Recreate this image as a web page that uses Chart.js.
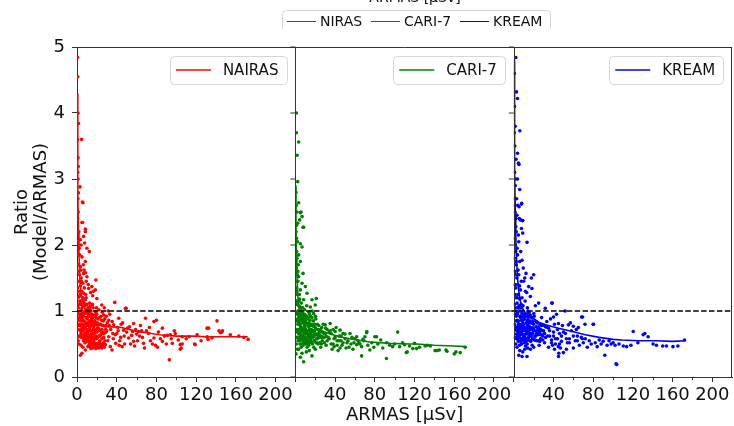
<!DOCTYPE html>
<html><head><meta charset="utf-8">
<script src="https://cdn.jsdelivr.net/npm/chart.js@4"></script>
<style>html,body{margin:0;padding:0;background:#fff;}canvas{display:block;}</style>
</head><body>
<canvas id="c" width="734" height="426"></canvas>
<script>
const panelLabels = ['NAIRAS', 'CARI-7', 'KREAM'];
const topLegendLabels = ['NIRAS', 'CARI-7', 'KREAM'];
const topTitle = 'ARMAS [μSv]';
const xTitle = 'ARMAS [μSv]';
const yTitle = ['Ratio', '(Model/ARMAS)'];
const colors = ['#ff0000', '#008000', '#0000ff'];
const xTicks = [0, 40, 80, 120, 160, 200];
const xMinorTicks = [20, 60, 100, 140, 180];
const yTicks = [0, 1, 2, 3, 4, 5];
const refRatio = 1;

const nairasPoints = [
[0.6,4.84],[0.8,4.55],[1.0,4.0],[1.5,3.84],[4.7,3.6],[1.0,3.32],[1.3,3.19],[1.1,3.0],[3.0,2.88],[1.4,2.79],[5.4,2.65],[5.7,2.34],[8.4,2.24],
[0.5,3.6],[0.7,3.1],[0.9,2.7],[1.2,2.5],[0.6,2.4],[1.8,2.2],[0.8,2.05],[2.2,1.95],[1.0,1.85],[1.6,1.7],[0.7,1.6],[2.5,1.55],[1.2,1.45],[0.5,1.35],[1.9,1.3],[0.9,1.2],[2.8,1.15],[1.4,1.05],[0.6,0.98],
[6,2.64],[5,2.34],[8.4,2.2],[6.7,2.13],[3.4,2.08],[7.7,2.03],[10,1.95],[12.4,1.9],[5,1.82],[8.4,1.75],[3.4,1.67],[6.7,1.57],[10,1.52],[4.4,1.45],[19,1.47],[15,1.37],[11.7,1.34],[18.5,1.32],[6.7,1.27],[15.8,1.23],[8.4,1.17],[20,1.19],[25,1.09],[13.4,1.07],[22,1.02],[5,0.96],[11.7,0.94],[1.7,0.89],[15,0.86],[8.4,0.81],[20,0.79],[5,0.71],[25,0.69],[1.7,0.61],[15,0.59],[10,0.54],[15,0.49],[20,0.46],[25,0.47],[8.4,0.41],[5,0.36],[3.4,0.33],
[3,1.25],[4,1.1],[5,0.95],[6,1.2],[7,0.85],[8,1.0],[9,0.9],[10,1.1],[11,0.8],[12,0.95],[13,0.75],[14,1.0],[15,0.7],[16,0.9],[17,0.65],[18,0.85],[19,0.72],[20,0.95],[22,0.62],[24,0.8],[26,0.68],[28,0.88],[30,0.7],
[2.5,0.8],[3.5,0.7],[4.5,0.6],[5.5,0.85],[6.5,0.55],[7.5,0.75],[8.5,0.65],[9.5,0.58],[10.5,0.72],[11.5,0.62],[12.5,0.85],[13.5,0.55],[14.5,0.78],[15.5,0.6],[16.5,0.72],[17.5,0.52],[18.5,0.68],[19.5,0.58],[21,0.75],[23,0.55],[25,0.72],[27,0.6],[29,0.78],
[3.2,1.0],[4.2,0.9],[5.2,1.05],[6.2,0.78],[7.2,1.12],[8.2,0.82],[9.2,1.2],[10.2,0.88],[11.2,1.05],[12.2,0.7],[13.2,0.92],[14.2,0.65],[16.2,1.05],[18.2,0.6],[20.5,0.82],[22.5,0.9],[24.5,0.65],[26.5,0.85],
[2.2,0.95],[2.8,1.1],[3.8,0.85],[4.8,1.3],[5.8,0.7],[6.8,0.95],[7.8,0.6],[8.8,1.25],[9.8,0.78],[10.8,0.98],[11.8,0.55],[12.8,1.12],[13.8,0.82],[15.2,0.95],[17.2,0.8],[19.2,0.9],[21.5,0.5],[23.5,0.7],
[2,0.5],[3,0.62],[4,0.48],[6,0.45],[8,0.52],[1.5,0.72],[1.2,0.55],[0.8,0.85],
[12,0.48],[13.5,0.45],[14.5,0.5],[16,0.44],[17.5,0.47],[19,0.43],[20.5,0.48],[22,0.45],[23.5,0.5],[25,0.44],[26.5,0.47],[15,0.52],[18,0.5],[21,0.51],[24,0.47],
[1.5,1.1],[2.3,1.22],[3.1,0.78],[3.6,1.15],[4.1,0.66],[4.4,1.02],[4.9,0.74],[5.3,0.88],[5.6,1.15],[6.1,0.62],[6.4,0.92],[6.9,0.72],[7.3,0.98],[7.7,0.66],[8.1,1.08],[8.6,0.74],[9.1,0.97],[9.4,0.68],[9.9,1.02],[10.4,0.6],[10.7,0.82],[11.1,0.7],[11.6,0.92],[12.1,0.78],[12.6,0.6],[13.1,1.02],[13.6,0.7],[14.1,0.86],[14.6,0.58],[15.1,0.8],[15.6,1.1],[16.1,0.66],[16.6,0.84],[17.1,0.58],[17.6,0.94],[18.1,0.72],[18.6,0.8],[19.1,0.62],[19.6,1.05],[20.2,0.68],[21.2,0.88],[22.2,0.72],[23.2,0.62],[24.2,0.92],[25.2,0.58],[26.2,0.78],[27.2,0.66],[28.2,0.55],[29.2,0.68],[30.5,0.82],
[1.8,0.78],[2.6,0.62],[3.4,0.92],[4.6,0.8],[5.1,0.62],[6.6,1.08],[7.1,0.58],[8.9,0.62],[9.7,0.9],[10.9,0.66],[12.4,0.98],[13.9,0.62],[14.9,0.92],[16.9,0.76],[18.9,0.98],[20.8,0.6],[22.8,0.8],[24.8,0.86],[26.8,0.52],[28.8,0.72],
[2.1,1.45],[3.3,1.38],[4.3,1.5],[5.9,1.42],[7.4,1.35],[9.3,1.45],[11.4,1.4],[13.7,1.28],[16.4,1.3],[3.9,1.62],[6.3,1.7],[8.7,1.58],[2.7,1.85],[4.1,2.0],[7.1,1.62],
[11,0.46],[12.8,0.5],[14,0.43],[16.8,0.48],[18.7,0.46],[19.8,0.5],[21.7,0.44],[22.8,0.49],[24.4,0.45],[26,0.5],[27.5,0.45],[13,0.53],[17,0.55],[23,0.53],
[32.5,0.78],[35.5,0.84],[38.5,0.64],[41.5,0.7],[44.5,0.8],[47.5,0.62],[51,0.74],[56,0.69],[33.5,0.46],[42.5,0.48],[36.5,0.58],[29.5,0.92],[31.5,1.0],[27.5,1.05],[25.5,0.98],
[38,1.13],[49.5,1.04],[48.8,1.04],[27,0.94],[32,0.86],[42,0.89],[37,0.79],[57,0.81],[69,0.89],[77.5,0.84],[86,0.74],[47,0.71],[62,0.69],[72,0.66],[99,0.66],[32,0.61],[52,0.59],[77.5,0.59],[106,0.61],[39,0.51],[57,0.54],[67,0.51],[86,0.54],[96,0.51],[106,0.5],[28.6,0.49],[45.5,0.46],[35.3,0.41],[104,0.42],[93,0.26],[80,0.86],[91,0.63],[94,0.64],[104,0.49],[119,0.49],[105,0.44],
[34,0.72],[36,0.66],[41,0.75],[44,0.6],[46,0.82],[50,0.68],[53,0.76],[55,0.63],[59,0.72],[61,0.55],[64,0.78],[66,0.6],[70,0.7],[74,0.55],[79,0.48],[82,0.68],[84,0.58],[88,0.62],[90,0.5],[95,0.58],[98,0.7],[102,0.56],[43,0.55],[48,0.5],[58,0.47],[63,0.62],[68,0.44],[73,0.75],[76,0.5],[81,0.45],[31,0.55],[33,0.95],[40,0.66],[54,0.5],[60,0.65],[65,0.7],
[113,0.61],[118.5,0.5],[121,0.64],[131,0.61],[132,0.57],[132.6,0.74],[136,0.59],[141,0.85],[144.4,0.67],[146,0.68],[146.5,0.7],[154.5,0.64],[163,0.62],[168,0.6],[172.4,0.57],[131,0.74],[143,0.7],[110,0.58],[125,0.55]
];
const cari7Points = [
[1,4.0],[1,3.7],[3.3,3.56],[1.7,3.36],[2.3,2.96],[3.3,2.64],[5.7,2.5],[4.3,2.38],[7.7,2.27],[2.3,2.33],[5,2.49],[6.7,2.43],[8.3,2.27],[5,2.02],[6.7,1.97],[3.3,1.85],[5,1.75],[7.7,1.57],[3.3,1.52],[6.7,1.42],[10,1.37],[5,1.32],[11.7,1.27],[21,1.19],[16.7,1.17],[20,1.09],[8.3,1.17],[15,1.06],[5,1.06],[18.3,0.96],[10,0.94],
[0.5,2.8],[0.8,2.6],[0.6,2.2],[1.2,2.1],[0.7,1.9],[1.5,1.8],[0.9,1.65],[1.8,1.55],[0.6,1.45],[1.3,1.35],[2.1,1.25],[0.8,1.15],[1.6,1.1],[2.5,1.0],[0.5,0.95],[1.1,0.85],[0.7,0.7],[1.4,0.6],[0.9,0.5],[1.9,0.42],[0.6,0.35],[2.6,1.45],[2.9,1.7],[4,1.25],[3.6,1.15],
[3,0.95],[4,0.85],[5,0.9],[6,0.75],[7,0.98],[8,0.7],[9,0.88],[10,0.65],[11,0.82],[12,0.6],[13,0.9],[14,0.72],[15,0.55],[16,0.8],[17,0.68],[18,0.85],[19,0.62],[20,0.75],[22,0.58],[24,0.7],[26,0.62],[28,0.8],[30,0.66],[32,0.55],
[3.5,0.72],[4.5,0.6],[5.5,0.68],[6.5,0.5],[7.5,0.62],[8.5,0.55],[9.5,0.75],[10.5,0.5],[11.5,0.68],[12.5,0.78],[13.5,0.48],[14.5,0.6],[15.5,0.7],[16.5,0.52],[17.5,0.6],[18.5,0.45],[19.5,0.7],[21,0.65],[23,0.5],[25,0.62],[27,0.55],[29,0.6],
[2.5,0.8],[2.8,0.6],[3.8,0.55],[4.8,0.78],[5.8,0.45],[6.8,0.85],[7.8,0.48],[8.8,0.95],[9.8,0.58],[10.8,0.9],[11.8,0.45],[12.8,0.65],[13.8,0.82],[15.2,0.92],[16.2,0.62],[17.2,0.78],[18.8,0.55],[20.5,0.88],[22.5,0.72],[24.5,0.52],[26.5,0.75],
[2.2,0.68],[3.2,0.42],[4.2,1.0],[6.2,0.62],[7.2,0.72],[9.2,0.82],[11.2,0.58],[13.2,0.55],[14.2,0.95],[16.8,1.0],[19.2,0.8],[21.5,0.52],[23.5,0.78],[25.5,0.45],[8.3,0.23],[6.7,0.36],[16.7,0.32],[5,0.3],[11,0.38],[14,0.4],[20,0.42],
[1.5,0.98],[2.3,0.88],[3.1,0.66],[3.6,0.92],[4.1,0.58],[4.4,0.8],[4.9,0.64],[5.3,1.02],[5.6,0.56],[6.1,0.88],[6.4,0.7],[6.9,0.6],[7.3,0.82],[7.7,0.55],[8.1,0.92],[8.6,0.66],[9.1,0.78],[9.4,0.52],[9.9,0.86],[10.4,0.72],[10.7,0.6],[11.1,0.92],[11.6,0.52],[12.1,0.7],[12.6,0.88],[13.1,0.62],[13.6,0.76],[14.1,0.52],[14.6,0.86],[15.1,0.66],[15.6,0.58],[16.1,0.72],[16.6,0.9],[17.1,0.5],[17.6,0.7],[18.1,0.62],[18.6,0.78],[19.1,0.55],[19.6,0.65],[20.2,0.92],[21.2,0.58],[22.2,0.8],[23.2,0.66],[24.2,0.6],[25.2,0.72],[26.2,0.5],[27.2,0.68],[28.2,0.6],[29.2,0.52],[30.5,0.74],
[1.8,0.72],[2.6,0.55],[3.4,0.82],[4.6,0.5],[5.1,0.74],[6.6,0.95],[7.1,0.5],[8.9,0.6],[9.7,0.68],[10.9,0.55],[12.4,0.5],[13.9,0.7],[14.9,0.78],[16.9,0.62],[18.9,0.7],[20.8,0.52],[22.8,0.62],[24.8,0.68],[26.8,0.6],[28.8,0.66],
[2.1,1.15],[3.3,1.08],[4.3,1.18],[5.9,1.12],[7.4,1.05],[9.3,1.02],[11.4,1.08],[13.7,0.98],[1.2,1.3],[1.7,1.45],[2.4,1.6],[1.3,1.9],[2,2.05],[1.1,2.3],[1.6,2.5],
[32,0.72],[34,0.58],[36,0.66],[38,0.5],[40,0.6],[42,0.48],[44,0.55],[46,0.62],[48,0.52],[50,0.65],[53,0.55],[56,0.5],[60,0.58],[64,0.52],[69,0.55],[31,0.62],[35,0.7],[39,0.46],[41,0.75],[45,0.44],
[35,0.81],[30,0.79],[45,0.71],[40,0.69],[55,0.66],[61.7,0.61],[71.7,0.67],[70,0.61],[80,0.61],[66.7,0.46],[61.7,0.49],[75,0.41],[66.7,0.32],[91.7,0.28],[103,0.68],[72,0.69],[81.7,0.61],[111.7,0.37],[122,0.43],[98,0.46],[110,0.49],
[33,0.6],[36,0.5],[38,0.72],[42,0.55],[44,0.62],[47,0.48],[50,0.58],[52,0.52],[54,0.45],[57,0.6],[59,0.52],[63,0.55],[65,0.5],[68,0.57],[73,0.48],[77,0.52],[79,0.45],[83,0.5],[86,0.56],[88,0.44],[92,0.52],[95,0.48],[100,0.5],[105,0.46],[48,0.66],[37,0.42],[43,0.4],[58,0.42],[34,0.68],[31,0.48],[39,0.58],[46,0.55],[51,0.44],
[112.7,0.38],[118.3,0.43],[120,0.51],[130.7,0.47],[133,0.48],[136,0.47],[140.7,0.4],[143,0.4],[145,0.41],[152.7,0.39],[160,0.35],[161.7,0.38],[166,0.37],[171,0.45],[151.7,0.41],[108,0.52],[115,0.47],[125,0.45]
];
const kreamPoints = [
[2,4.84],[2.7,4.32],[3.7,4.22],[6,3.73],[3.7,3.39],[4.7,3.24],[5.2,3.22],[3.7,3.0],[6,2.84],[8,2.63],[5.3,2.58],[8.7,2.37],[5.5,2.4],[2,2.28],[7.7,2.62],[6.7,2.38],[9,2.37],[7.7,2.25],[9,2.18],[5,2.05],[13.3,2.04],[3.3,1.95],[8.3,1.77],[4.3,1.62],[12.3,1.57],[20,1.55],[17.7,1.5],[10,1.45],[15,1.37],[18.3,1.34],[6.7,1.32],[11.7,1.3],[16.7,1.22],[8.3,1.2],[25,1.12],[38.3,1.12],[21.7,1.08],[31.7,1.04],[51.7,1.0],[15,0.98],[40,0.91],[28,0.9],[33.3,0.84],[68.3,0.91],[71.7,0.8],[80,0.8],[45,0.81],[55,0.79],[60,0.77],
[0.5,4.6],[0.7,4.1],[0.5,3.7],[1.0,3.5],[0.8,3.1],[1.5,2.9],[0.6,2.7],[1.2,2.5],[2.5,2.2],[0.9,2.1],[1.8,1.9],[0.6,1.8],[2.3,1.7],[1.1,1.6],[3,1.5],[0.7,1.4],[2.0,1.35],[1.4,1.25],[3.5,1.2],[0.8,1.1],[2.6,1.05],[1.0,0.95],[4,1.4],[5,1.55],[6,1.75],[7,1.9],[3.8,1.85],[4.6,2.15],[9.5,1.65],[11,1.5],[7.5,1.45],[5.8,1.38],[13,1.28],
[3,0.95],[4,0.85],[5,1.0],[6,0.8],[7,1.05],[8,0.75],[9,0.92],[10,0.7],[11,0.88],[12,0.65],[13,0.95],[14,0.78],[15,0.6],[16,0.85],[17,0.72],[18,0.9],[19,0.66],[20,0.8],[22,0.62],[24,0.75],[26,0.68],[28,0.78],[30,0.7],[32,0.6],
[3.5,0.75],[4.5,0.62],[5.5,0.72],[6.5,0.55],[7.5,0.68],[8.5,0.58],[9.5,0.8],[10.5,0.52],[11.5,0.72],[12.5,0.82],[13.5,0.5],[14.5,0.65],[15.5,0.75],[16.5,0.55],[17.5,0.62],[18.5,0.48],[19.5,0.74],[21,0.7],[23,0.55],[25,0.65],[27,0.58],[29,0.62],
[2.5,0.85],[2.8,0.65],[3.8,0.58],[4.8,0.8],[5.8,0.48],[6.8,0.9],[7.8,0.5],[8.8,1.0],[9.8,0.6],[10.8,0.95],[11.8,0.47],[12.8,0.7],[13.8,0.86],[15.2,0.98],[16.2,0.66],[17.2,0.82],[18.8,0.58],[20.5,0.92],[22.5,0.76],[24.5,0.55],[26.5,0.8],
[2.2,0.72],[3.2,0.45],[4.2,1.05],[6.2,0.66],[7.2,0.78],[9.2,0.86],[11.2,0.6],[13.2,0.58],[14.2,1.0],[19.2,0.85],[21.5,0.56],[23.5,0.82],[25.5,0.48],[5,0.33],[8.3,0.31],[13.3,0.31],[16.7,0.42],[11,0.42],[6,0.4],[20,0.45],[9,0.38],[14,0.44],[2,0.5],[1,0.6],[0.6,0.8],
[1.5,1.0],[2.3,0.92],[3.1,0.7],[3.6,0.96],[4.1,0.62],[4.4,0.84],[4.9,0.68],[5.3,1.08],[5.6,0.6],[6.1,0.92],[6.4,0.74],[6.9,0.64],[7.3,0.86],[7.7,0.58],[8.1,0.96],[8.6,0.7],[9.1,0.82],[9.4,0.56],[9.9,0.9],[10.4,0.76],[10.7,0.64],[11.1,0.96],[11.6,0.56],[12.1,0.74],[12.6,0.92],[13.1,0.66],[13.6,0.8],[14.1,0.56],[14.6,0.9],[15.1,0.7],[15.6,0.62],[16.1,0.76],[16.6,0.94],[17.1,0.54],[17.6,0.74],[18.1,0.66],[18.6,0.82],[19.1,0.58],[19.6,0.7],[20.2,0.96],[21.2,0.62],[22.2,0.84],[23.2,0.7],[24.2,0.64],[25.2,0.76],[26.2,0.54],[27.2,0.72],[28.2,0.64],[29.2,0.56],[30.5,0.78],
[1.8,0.76],[2.6,0.58],[3.4,0.86],[4.6,0.54],[5.1,0.78],[6.6,1.0],[7.1,0.54],[8.9,0.64],[9.7,0.72],[10.9,0.58],[12.4,0.54],[13.9,0.74],[14.9,0.82],[16.9,0.66],[18.9,0.74],[20.8,0.56],[22.8,0.66],[24.8,0.72],[26.8,0.64],[28.8,0.7],
[2.1,1.2],[3.3,1.12],[4.3,1.25],[5.9,1.18],[7.4,1.1],[9.3,1.08],[11.4,1.15],[13.7,1.05],[1.2,1.4],[1.7,1.55],[2.4,1.75],[1.3,2.0],[2,2.4],[1.1,2.6],[1.6,3.0],[2.2,3.3],[1.4,3.8],[2.8,2.7],[3.2,2.45],[4.1,2.6],
[32,0.76],[34,0.62],[36,0.7],[38,0.56],[40,0.62],[42,0.5],[44,0.58],[46,0.66],[48,0.54],[50,0.68],[53,0.58],[56,0.52],[60,0.62],[64,0.55],[69,0.58],[31,0.66],[35,0.74],[39,0.48],[41,0.8],[45,0.46],
[91.7,0.33],[103,0.2],[45,0.31],[50,0.37],[80.3,0.8],[69.3,0.91],[38.7,1.12],[45.3,0.36],[34,0.75],[36,0.62],[38,0.52],[40,0.68],[42,0.58],[44,0.72],[46,0.5],[48,0.62],[52,0.66],[54,0.52],[56,0.58],[58,0.7],[62,0.55],[64,0.62],[66,0.48],[68,0.6],[70,0.52],[72,0.58],[74,0.45],[76,0.55],[78,0.5],[82,0.52],[84,0.46],[86,0.56],[88,0.5],[90,0.54],[94,0.48],[96,0.55],[98,0.5],[100,0.52],[35,0.45],[41,0.42],[47,0.44],[53,0.42],[60,0.44],[63,0.72],[57,0.82],[49,0.78],[37,0.88],[31,0.52],[43,0.95],[65,0.75],
[120.3,0.69],[130.3,0.64],[132,0.66],[135.3,0.61],[110.3,0.47],[113.7,0.46],[102,0.48],[140.3,0.5],[143.7,0.48],[153.7,0.47],[160.3,0.46],[165.3,0.47],[172,0.56],[103.7,0.19],[106,0.5],[118,0.48],[125,0.52],[150,0.47]
];

const nairasFitX = [0.3,0.6,1,1.5,2,3,4,5,7,10,15,20,28,35,45,50,55,60,66,75,83,91,100,116,130,150,172];
const nairasFitY = [4.3,3.5,2.8,2.2,1.85,1.45,1.3,1.2,1.08,0.96,0.86,0.8,0.76,0.76,0.75,0.73,0.71,0.69,0.68,0.66,0.64,0.63,0.62,0.62,0.61,0.61,0.61];
const cari7FitX = [0.3,0.6,1,1.5,2,3,4,6,8,12,16,20,28,35,45,55,62,75,95,115,122,140,160,172];
const cari7FitY = [2.9,2.3,1.85,1.55,1.35,1.12,1.0,0.92,0.87,0.82,0.77,0.74,0.69,0.65,0.61,0.58,0.56,0.53,0.51,0.5,0.5,0.48,0.47,0.46];
const kreamFitX = [0.3,0.6,1,1.5,2,3,4,5,7,9,12,16,19,25,32,45,59,72,86,100,109,125,143,160,173];
const kreamFitY = [4.8,3.9,3.1,2.5,2.1,1.7,1.45,1.3,1.12,1.04,0.96,0.92,0.9,0.83,0.79,0.74,0.69,0.64,0.6,0.57,0.56,0.55,0.55,0.54,0.55];

const FONT = 'DejaVu Sans';
const TXT = '#111';
const AX = '#333';
const panelPoints = [nairasPoints, cari7Points, kreamPoints];
const fitX = [nairasFitX, cari7FitX, kreamFitX];
const fitY = [nairasFitY, cari7FitY, kreamFitY];
const xIds = ['x1', 'x2', 'x3'];

const datasets = [];
for (let i = 0; i < 3; i++) {
  datasets.push({
    label: panelLabels[i] + ' points',
    data: panelPoints[i].map(([x, y]) => ({x, y})),
    xAxisID: xIds[i], yAxisID: 'y',
    backgroundColor: colors[i], borderWidth: 0,
    pointRadius: 1.8, pointHoverRadius: 1.8, order: 2
  });
  datasets.push({
    label: panelLabels[i],
    data: fitX[i].map((x, k) => ({x, y: fitY[i][k]})),
    xAxisID: xIds[i], yAxisID: 'y',
    showLine: true, borderColor: colors[i], borderWidth: 1.6,
    pointRadius: 0, tension: 0, fill: false, order: 1
  });
}

function xScale(i) {
  return {
    type: 'linear', position: 'bottom', stack: 'panels', stackWeight: 1,
    min: 0, max: 220,
    afterFit: s => { s.height = 49; s.paddingLeft = 0; s.paddingRight = 0; },
    afterBuildTicks: s => { s.ticks = xTicks.map(v => ({value: v})); },
    ticks: {
      autoSkip: false, maxRotation: 0, padding: 3, color: TXT,
      font: {family: FONT, size: 18},
      callback: v => (v === 0 && i > 0) ? '' : String(v)
    },
    grid: {drawOnChartArea: false, drawTicks: true, tickLength: 5, tickColor: AX, tickWidth: 1},
    border: {display: true, color: AX, width: 1},
    title: {display: i === 1, text: xTitle, color: TXT, font: {family: FONT, size: 18}, padding: {top: 0, bottom: 0}}
  };
}

const framePlugin = {
  id: 'frame',
  afterDatasetsDraw(chart) {
    const ctx = chart.ctx, a = chart.chartArea, y = chart.scales.y;
    ctx.save();
    const yr = y.getPixelForValue(refRatio);
    ctx.strokeStyle = '#000'; ctx.lineWidth = 1.5; ctx.setLineDash([5.5, 2.4]);
    ctx.beginPath(); ctx.moveTo(a.left, yr); ctx.lineTo(a.right, yr); ctx.stroke();
    ctx.setLineDash([]);
    ctx.strokeStyle = AX; ctx.lineWidth = 1;
    const px = v => Math.round(v) + 0.5;
    ctx.beginPath();
    ctx.moveTo(a.left, px(a.top)); ctx.lineTo(a.right, px(a.top));
    ctx.moveTo(px(a.right - 1), a.top); ctx.lineTo(px(a.right - 1), a.bottom);
    for (let i = 1; i < 3; i++) {
      const s = chart.scales[xIds[i]];
      ctx.moveTo(px(s.left), a.top); ctx.lineTo(px(s.left), a.bottom);
      for (const t of yTicks) {
        const yy = y.getPixelForValue(t);
        ctx.moveTo(s.left - 5, yy); ctx.lineTo(s.left, yy);
      }
    }
    for (let i = 0; i < 3; i++) {
      const s = chart.scales[xIds[i]];
      for (const t of xMinorTicks) {
        const xx = px(s.getPixelForValue(t));
        ctx.moveTo(xx, a.bottom); ctx.lineTo(xx, a.bottom + 3);
      }
    }
    ctx.stroke();
    ctx.font = '15px "' + FONT + '"';
    for (let i = 0; i < 3; i++) {
      const s = chart.scales[xIds[i]];
      const tw = ctx.measureText(panelLabels[i]).width;
      const w = 6 + 35 + 12 + tw + 8, h = 28;
      const bx = s.right - 9 - w, by = a.top + 9;
      ctx.fillStyle = 'rgba(255,255,255,0.8)';
      ctx.strokeStyle = '#d6d6d6'; ctx.lineWidth = 1;
      ctx.beginPath(); ctx.roundRect(Math.round(bx) + 0.5, Math.round(by) + 0.5, Math.round(w), h, 4); ctx.fill(); ctx.stroke();
      const cy = by + h / 2;
      ctx.strokeStyle = colors[i]; ctx.lineWidth = 1.5;
      ctx.beginPath(); ctx.moveTo(bx + 6, cy); ctx.lineTo(bx + 41, cy); ctx.stroke();
      ctx.fillStyle = TXT; ctx.textAlign = 'left'; ctx.textBaseline = 'middle';
      ctx.fillText(panelLabels[i], bx + 53, cy + 1);
    }
    ctx.font = '14px "' + FONT + '"';
    ctx.fillStyle = TXT; ctx.textAlign = 'center'; ctx.textBaseline = 'alphabetic';
    ctx.fillText(topTitle, 415, 2);
    ctx.strokeStyle = '#d6d6d6'; ctx.lineWidth = 1;
    ctx.beginPath();
    ctx.moveTo(282.5, 29); ctx.lineTo(282.5, 14); ctx.arcTo(282.5, 10.5, 286.5, 10.5, 4);
    ctx.lineTo(546.5, 10.5); ctx.arcTo(550.5, 10.5, 550.5, 14.5, 4); ctx.lineTo(550.5, 29);
    ctx.stroke();
    const lineX = [287, 371, 460];
    for (let i = 0; i < 3; i++) {
      ctx.strokeStyle = colors[i]; ctx.lineWidth = 1;
      ctx.beginPath(); ctx.moveTo(lineX[i], 21.5); ctx.lineTo(lineX[i] + 29, 21.5); ctx.stroke();
      ctx.fillStyle = TXT; ctx.textAlign = 'left';
      ctx.fillText(topLegendLabels[i], lineX[i] + 33, 26);
    }
    ctx.restore();
  }
};

new Chart(document.getElementById('c'), {
  type: 'scatter',
  data: {datasets},
  options: {
    responsive: false, animation: false, devicePixelRatio: 1,
    layout: {padding: {top: 47, right: 1, bottom: 0, left: 0}},
    plugins: {legend: {display: false}, tooltip: {enabled: false}},
    scales: {
      x1: xScale(0), x2: xScale(1), x3: xScale(2),
      y: {
        type: 'linear', position: 'left', min: 0, max: 5,
        afterFit: s => { s.width = 77; },
        afterBuildTicks: s => { s.ticks = yTicks.map(v => ({value: v})); },
        ticks: {padding: 7, color: TXT, font: {family: FONT, size: 18}},
        grid: {drawOnChartArea: false, drawTicks: true, tickLength: 5, tickColor: AX},
        border: {display: true, color: AX, width: 1},
        title: {display: true, text: yTitle, color: TXT, font: {family: FONT, size: 18, lineHeight: 1.1}, padding: {top: 12, bottom: 0}}
      }
    }
  },
  plugins: [framePlugin]
});
</script>
</body></html>
